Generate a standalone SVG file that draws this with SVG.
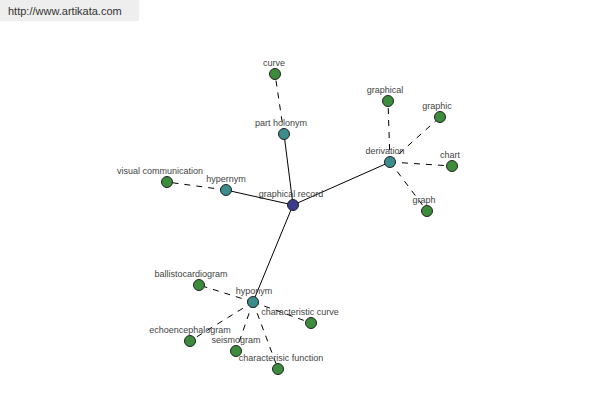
<svg xmlns="http://www.w3.org/2000/svg" width="600" height="400" viewBox="0 0 600 400">
<style>
.lbl{font-family:"Liberation Sans",Arial,sans-serif;font-size:9px;fill:#444;text-anchor:middle}
.hub{fill:#3c3c8c;stroke:#222;stroke-width:1}
.mid{fill:#3c8c8c;stroke:#222;stroke-width:1}
.leaf{fill:#3c8c3c;stroke:#222;stroke-width:1}
.s{stroke:#000;stroke-width:1;fill:none}
.d{stroke:#000;stroke-width:1;fill:none;stroke-dasharray:6,6}
</style>
<rect width="600" height="400" fill="#fff"/>
<g id="header"><rect x="0" y="0" width="139" height="21" fill="#eeeeee"/><text x="8" y="15" style="font-family:'Liberation Sans',Arial,sans-serif;font-size:11px;fill:#333">http://www.artikata.com</text></g>
<g id="connectors">
<line class="s" x1="293" y1="205" x2="284" y2="134"/>
<line class="s" x1="293" y1="205" x2="226" y2="190"/>
<line class="s" x1="293" y1="205" x2="390" y2="162"/>
<line class="s" x1="293" y1="205" x2="253" y2="302"/>
<line class="d" x1="284" y1="134" x2="275" y2="74"/>
<line class="d" x1="226" y1="190" x2="167" y2="182"/>
<line class="d" x1="390" y1="162" x2="388" y2="101"/>
<line class="d" x1="390" y1="162" x2="440" y2="117"/>
<line class="d" x1="390" y1="162" x2="452" y2="166"/>
<line class="d" x1="390" y1="162" x2="427" y2="211"/>
<line class="d" x1="253" y1="302" x2="199" y2="285"/>
<line class="d" x1="253" y1="302" x2="311" y2="323"/>
<line class="d" x1="253" y1="302" x2="190" y2="341"/>
<line class="d" x1="253" y1="302" x2="236" y2="351"/>
<line class="d" x1="253" y1="302" x2="278" y2="369"/>
</g>
<g id="n-graphical-record"><circle class="hub" cx="293" cy="205" r="5.5"/><text class="lbl" x="291" y="197">graphical record</text></g>
<g id="n-part-holonym"><circle class="mid" cx="284" cy="134" r="5.5"/><text class="lbl" x="281" y="126">part holonym</text></g>
<g id="n-curve"><circle class="leaf" cx="275" cy="74" r="5.5"/><text class="lbl" x="274" y="66">curve</text></g>
<g id="n-hypernym"><circle class="mid" cx="226" cy="190" r="5.5"/><text class="lbl" x="226" y="182">hypernym</text></g>
<g id="n-visual-communication"><circle class="leaf" cx="167" cy="182" r="5.5"/><text class="lbl" x="160" y="174">visual communication</text></g>
<g id="n-derivation"><circle class="mid" cx="390" cy="162" r="5.5"/><text class="lbl" x="385" y="154">derivation</text></g>
<g id="n-graphical"><circle class="leaf" cx="388" cy="101" r="5.5"/><text class="lbl" x="385" y="93">graphical</text></g>
<g id="n-graphic"><circle class="leaf" cx="440" cy="117" r="5.5"/><text class="lbl" x="437" y="109">graphic</text></g>
<g id="n-chart"><circle class="leaf" cx="452" cy="166" r="5.5"/><text class="lbl" x="450" y="158">chart</text></g>
<g id="n-graph"><circle class="leaf" cx="427" cy="211" r="5.5"/><text class="lbl" x="424" y="203">graph</text></g>
<g id="n-hyponym"><circle class="mid" cx="253" cy="302" r="5.5"/><text class="lbl" x="254" y="294">hyponym</text></g>
<g id="n-ballistocardiogram"><circle class="leaf" cx="199" cy="285" r="5.5"/><text class="lbl" x="191" y="277">ballistocardiogram</text></g>
<g id="n-characteristic-curve"><circle class="leaf" cx="311" cy="323" r="5.5"/><text class="lbl" x="300" y="315">characteristic curve</text></g>
<g id="n-echoencephalogram"><circle class="leaf" cx="190" cy="341" r="5.5"/><text class="lbl" x="190" y="333">echoencephalogram</text></g>
<g id="n-seismogram"><circle class="leaf" cx="236" cy="351" r="5.5"/><text class="lbl" x="236" y="343">seismogram</text></g>
<g id="n-characterisic-function"><circle class="leaf" cx="278" cy="369" r="5.5"/><text class="lbl" x="281" y="361">characterisic function</text></g>
</svg>
